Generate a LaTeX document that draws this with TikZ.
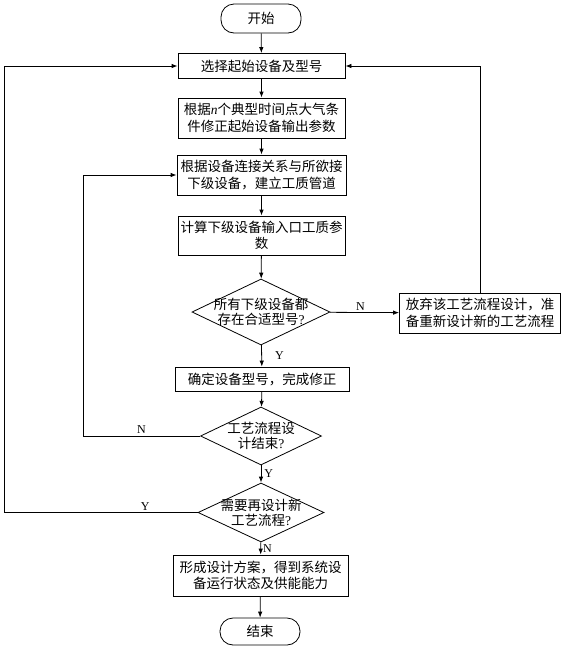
\documentclass[tikz,border=0pt]{standalone}
\usepackage{fontspec}
\setmainfont{Noto Sans CJK SC}
\newfontfamily\latinfont{Liberation Serif}
\usetikzlibrary{shapes.geometric}
\usetikzlibrary{arrows.meta}

\tikzset{
  base/.style={draw, line width=0.8pt, fill=white, align=center, inner sep=0pt,
               font=\fontsize{13.5}{16.5}\selectfont},
  term/.style={base, rectangle, rounded corners=13pt, minimum width=80pt},
  proc/.style={base, rectangle},
  dec/.style={base, diamond, inner sep=-3pt, shape aspect=2.1,
              font=\fontsize{13.5}{15}\selectfont},
  yn/.style={font=\latinfont\fontsize{12}{12}\selectfont, inner sep=2pt},
  flow/.style={line width=0.8pt, -{Latex[length=6pt,width=4.5pt]}}
}

\begin{document}
\begin{tikzpicture}[x=1pt,y=-1pt]

            %\draw [help lines] (0,0) grid (563,649);
            \useasboundingbox (0,0) rectangle (563,649);

            \path   (261,18.5)  node (start) [term, minimum height=29pt] {开始}
                    (261.5,66)  node (sel)   [proc, minimum width=167pt, minimum height=25pt] {选择起始设备及型号}
                    (261.5,118) node (corr)  [proc, minimum width=167pt, minimum height=40pt]
                                {根据{\latinfont\itshape n}个典型时间点大气条\\件修正起始设备输出参数}
                    (261.5,175) node (conn)  [proc, minimum width=169pt, minimum height=40pt]
                                {根据设备连接关系与所欲接\\下级设备，建立工质管道}
                    (261.5,235.5) node (calc) [proc, minimum width=167pt, minimum height=39pt]
                                {计算下级设备输入口工质参\\数}
                    (261,312)   node (dia1)  [dec, minimum width=138pt, minimum height=66pt]
                                {所有下级设备都\\存在合适型号{\latinfont ?}}
                    (480,313)   node (give)  [proc, minimum width=161pt, minimum height=40pt]
                                {放弃该工艺流程设计，准\\备重新设计新的工艺流程}
                    (262,379)   node (fix)   [proc, minimum width=174pt, minimum height=24pt] {确定设备型号，完成修正}
                    (261,436)   node (dia2)  [dec, minimum width=121pt, minimum height=58pt]
                                {工艺流程设\\计结束{\latinfont ?}}
                    (261,512.5) node (dia3)  [dec, minimum width=126pt, minimum height=59pt]
                                {需要再设计新\\工艺流程{\latinfont ?}}
                    (260.5,575.5) node (plan) [proc, minimum width=175pt, minimum height=41pt]
                                {形成设计方案，得到系统设\\备运行状态及供能能力}
                    (260,631.5) node (end)   [term, minimum height=27pt] {结束};

            \coordinate (nturn) at (83,436);
            \coordinate (yturn) at (4,512.5);

            \draw[flow] (start) -- (sel);
            \draw[flow] (sel) -- (corr);
            \draw[flow] (corr) -- (conn);
            \draw[flow] (conn) -- (calc);
            \draw[flow] (calc) -- (dia1);
            \draw[flow] (dia1) -- node[yn, above, xshift=-4pt] {N} (give);
            \draw[flow] (give.north) |- (sel.east);
            \draw[flow] (dia1) -- node[yn, right, xshift=11pt] {Y} (fix);
            \draw[flow] (fix) -- (dia2);
            \draw[flow] (dia2.west) -- node[yn, above] {N} (nturn) |- (conn.west);
            \draw[flow] (dia2) -- node[yn, right, xshift=1pt] {Y} (dia3);
            \draw[flow] (dia3.west) -- node[yn, above, pos=0.27] {Y} (yturn) |- (sel.west);
            \draw[flow] (dia3) -- node[yn, right] {N} (plan);
            \draw[flow] (plan) -- (end);
        \end{tikzpicture}
\end{document}
